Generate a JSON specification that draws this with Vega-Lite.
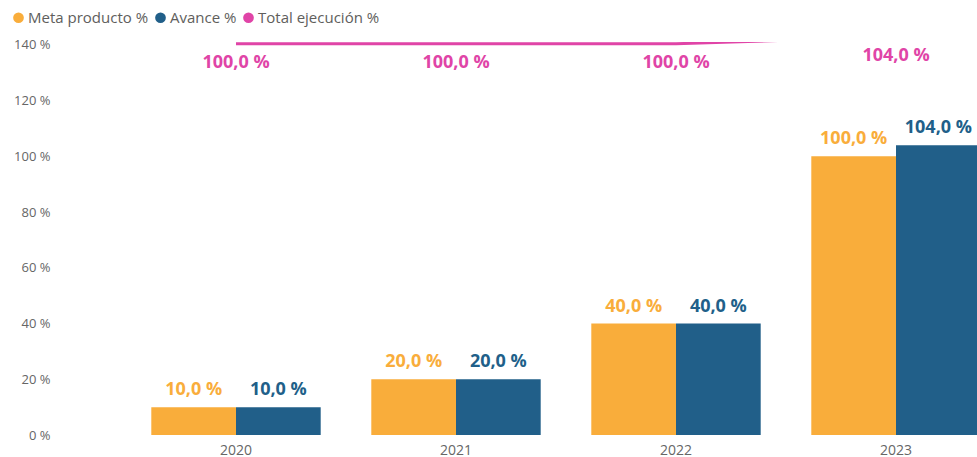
{
  "$schema": "https://vega.github.io/schema/vega-lite/v6.json",
  "autosize": {"type": "none"},
  "width": 919,
  "height": 393,
  "padding": {"left": 58, "top": 42, "right": 0, "bottom": 22},
  "background": "white",
  "config": {
    "view": {"stroke": null},
    "font": "Open Sans",
    "locale": {"number": {"decimal": ",", "thousands": ".", "grouping": [3], "currency": ["", " €"], "percent": " %"}},
    "axis": {"labelFont": "Open Sans", "labelColor": "#666666", "labelFontSize": 13, "grid": false, "domain": false, "ticks": false, "title": null}
  },
  "datasets": {
    "bars": [
      {"anio": "2020", "serie": "Meta producto %", "valor": 0.10},
      {"anio": "2020", "serie": "Avance %", "valor": 0.10},
      {"anio": "2021", "serie": "Meta producto %", "valor": 0.20},
      {"anio": "2021", "serie": "Avance %", "valor": 0.20},
      {"anio": "2022", "serie": "Meta producto %", "valor": 0.40},
      {"anio": "2022", "serie": "Avance %", "valor": 0.40},
      {"anio": "2023", "serie": "Meta producto %", "valor": 1.00},
      {"anio": "2023", "serie": "Avance %", "valor": 1.04}
    ],
    "total": [
      {"anio": "2020", "serie": "Total ejecución %", "valor": 1.00},
      {"anio": "2021", "serie": "Total ejecución %", "valor": 1.00},
      {"anio": "2022", "serie": "Total ejecución %", "valor": 1.00},
      {"anio": "2023", "serie": "Total ejecución %", "valor": 1.04}
    ]
  },
  "encoding": {
    "x": {
      "field": "anio", "type": "nominal", "sort": ["2020", "2021", "2022", "2023"],
      "scale": {"range": [68, 948], "paddingInner": 0.23, "paddingOuter": 0.115},
      "axis": {"labelAngle": 0, "labelPadding": 8, "labelFontSize": 14}
    },
    "color": {
      "field": "serie", "type": "nominal",
      "scale": {"domain": ["Meta producto %", "Avance %", "Total ejecución %"], "range": ["#F9AD3B", "#215F89", "#E044A7"]},
      "legend": {
        "title": null, "orient": "none", "direction": "horizontal", "legendX": -47, "legendY": -32,
        "symbolType": "circle", "symbolSize": 115, "symbolStrokeWidth": 0,
        "labelFont": "Open Sans", "labelFontSize": 15, "labelColor": "#605E5C", "labelOffset": 2, "columnPadding": 4,
        "encode": {"symbols": {"update": {"fill": {"scale": "color", "field": "value"}, "stroke": {"value": "transparent"}, "opacity": {"value": 1}}}}
      }
    }
  },
  "layer": [
    {
      "data": {"name": "bars"},
      "encoding": {
        "xOffset": {"field": "serie", "type": "nominal", "sort": ["Meta producto %", "Avance %"], "scale": {"paddingInner": 0, "paddingOuter": 0}},
        "y": {
          "field": "valor", "type": "quantitative",
          "scale": {"domain": [0, 1.41], "nice": false, "zero": true},
          "axis": {"values": [0, 0.2, 0.4, 0.6, 0.8, 1.0, 1.2, 1.4], "format": ".0%", "labelPadding": 8}
        }
      },
      "layer": [
        {"mark": {"type": "bar", "clip": true}},
        {"mark": {"type": "text", "dy": -17, "fontSize": 18, "fontWeight": "bold", "baseline": "middle"},
         "encoding": {"text": {"field": "valor", "type": "quantitative", "format": ".1%"}}}
      ]
    },
    {
      "data": {"name": "total"},
      "encoding": {
        "y": {
          "field": "valor", "type": "quantitative",
          "scale": {"domain": [-1.236, 1.010], "nice": false, "zero": false},
          "axis": null
        }
      },
      "layer": [
        {"mark": {"type": "line", "strokeWidth": 3, "clip": true}},
        {"mark": {"type": "text", "dy": 19, "fontSize": 18, "fontWeight": "bold", "baseline": "middle"},
         "encoding": {"text": {"field": "valor", "type": "quantitative", "format": ".1%"}}}
      ]
    }
  ],
  "resolve": {"scale": {"y": "independent"}, "axis": {"y": "independent"}}
}
